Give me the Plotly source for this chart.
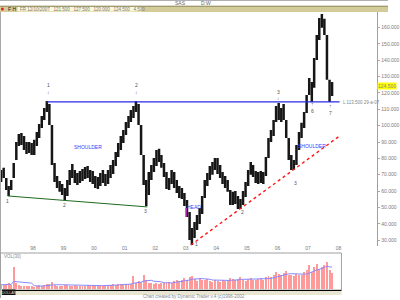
import pandas as pd
import plotly.graph_objects as go

# ---------------- data ----------------
bar_dates = pd.date_range("1996-12-01", periods=131, freq="MS") + pd.Timedelta(days=14)

high = [72.9, 74.2, 68.0, 63.1, 66.8, 77.2, 90.0, 94.9, 95.5, 93.7,
        90.0, 90.0, 89.4, 91.3, 96.1, 101.0, 105.9, 110.8, 115.1, 113.3,
        100.4, 77.2, 69.2, 66.2, 64.3, 61.9, 66.8, 72.9, 76.6, 72.9,
        71.1, 72.3, 73.5, 74.7, 75.3, 72.9, 72.3, 69.2, 68.6, 71.1,
        72.9, 70.5, 72.9, 76.0, 79.0, 83.9, 89.4, 93.7, 97.4, 102.3,
        105.9, 109.6, 112.0, 115.1, 113.3, 100.4, 82.1, 66.8, 71.7, 76.0,
        80.2, 85.1, 85.8, 82.1, 77.2, 71.7, 68.0, 72.9, 71.7, 66.8,
        63.1, 61.9, 58.8, 54.6, 47.2, 37.4, 41.1, 45.4, 49.7, 57.0,
        66.8, 71.1, 75.3, 77.8, 80.2, 80.2, 76.0, 71.7, 69.2, 66.8,
        60.7, 59.5, 60.1, 57.0, 55.2, 60.1, 65.6, 72.9, 77.8, 76.0,
        72.3, 71.7, 72.3, 71.7, 80.9, 92.5, 97.4, 103.5, 112.0, 113.9,
        110.8, 113.3, 103.5, 92.5, 82.1, 79.0, 88.2, 96.1, 101.7, 108.4,
        118.8, 129.2, 126.7, 141.4, 155.5, 165.9, 168.3, 165.3, 155.5, 128.0,
        126.7]

low = [65.6, 68.0, 60.7, 57.0, 60.7, 68.0, 79.0, 87.6, 88.2, 85.1,
       82.7, 83.3, 82.1, 82.1, 87.6, 92.5, 98.6, 103.5, 108.4, 100.4,
       76.0, 65.6, 61.9, 59.5, 57.6, 54.6, 57.0, 63.7, 68.0, 65.0,
       63.7, 65.0, 66.2, 67.4, 68.0, 65.6, 64.3, 61.9, 61.3, 63.1,
       65.0, 63.1, 64.3, 68.0, 70.5, 75.3, 80.9, 85.1, 89.4, 94.3,
       98.6, 102.3, 104.7, 108.4, 100.4, 82.1, 63.7, 50.9, 57.6, 66.8,
       71.7, 75.3, 77.8, 74.2, 68.6, 61.3, 60.7, 64.3, 61.9, 58.8,
       55.8, 55.2, 50.9, 44.2, 30.1, 27.0, 31.3, 36.2, 39.9, 46.0,
       55.8, 63.1, 66.8, 69.9, 72.9, 70.5, 68.0, 64.3, 61.9, 59.5,
       51.5, 51.5, 52.1, 49.1, 49.1, 51.5, 56.4, 63.1, 69.9, 68.6,
       65.0, 64.3, 65.0, 64.3, 69.2, 80.2, 90.0, 93.7, 102.3, 103.5,
       102.3, 103.5, 92.5, 79.0, 72.9, 73.0, 76.0, 85.1, 92.5, 98.6,
       107.8, 118.8, 114.5, 123.1, 140.2, 152.4, 159.8, 155.5, 128.0, 114.5,
       118.2]

volume = [12, 10, 14, 16, 12, 62, 18, 10, 8, 9,
          7, 8, 9, 6, 8, 10, 9, 11, 14, 13,
          20, 12, 9, 8, 7, 10, 12, 9, 8, 10,
          9, 8, 7, 9, 10, 8, 9, 11, 10, 8,
          9, 12, 10, 11, 14, 12, 13, 15, 12, 14,
          13, 15, 36, 18, 22, 20, 40, 24, 18, 16,
          15, 17, 14, 16, 18, 20, 19, 17, 22, 25,
          21, 24, 30, 26, 34, 36, 28, 22, 30, 26,
          24, 28, 22, 20, 25, 23, 20, 24, 22, 26,
          30, 28, 24, 27, 32, 25, 22, 28, 30, 26,
          24, 27, 30, 26, 32, 36, 34, 40, 48, 42,
          38, 45, 50, 40, 38, 35, 42, 40, 38, 46,
          52, 66, 48, 62, 70, 55, 60, 68, 75, 52,
          45]

year_ticks = [f"{y}-01-01" for y in range(1998, 2009)]
year_labels = ["98", "99", "00", "01", "02", "03", "04", "05", "06", "07", "08"]
price_ticks = list(range(30, 170, 10))
price_tick_labels = [f"{v:.3f}" for v in price_ticks]

neck_dates = ["1998-06-15", "2008-01-13"]
neck_vals = [114.5, 114.5]
support_dates = ["1997-03-05", "2001-09-28"]
support_vals = [57.0, 50.3]
trend_dates = ["2003-03-01", "2008-01-13"]
trend_vals = [27.0, 93.7]
last_close = 124.5

# ---------------- helpers ----------------
W, H = 400, 300


def px(x):
    return x / W


def py(y):
    return 1 - y / H


GRAY = "#7a7a7a"
FONT = "Liberation Sans"

fig = go.Figure()

# price bars (high-low)
bx, by = [], []
for d, h, l in zip(bar_dates, high, low):
    bx += [d, d, None]
    by += [l, h, None]
fig.add_trace(go.Scatter(x=bx, y=by, mode="lines", line=dict(color="#161616", width=2.5),
                         hoverinfo="skip", xaxis="x", yaxis="y"))

# trend lines
fig.add_trace(go.Scatter(x=neck_dates, y=neck_vals, mode="lines",
                         line=dict(color="#2a2ae8", width=1.2), xaxis="x", yaxis="y"))
fig.add_trace(go.Scatter(x=support_dates, y=support_vals, mode="lines",
                         line=dict(color="#1d6b1d", width=1), xaxis="x", yaxis="y"))
fig.add_trace(go.Scatter(x=trend_dates, y=trend_vals, mode="lines",
                         line=dict(color="#ff1a1a", width=1.4, dash="dot"), xaxis="x", yaxis="y"))

# volume
fig.add_trace(go.Bar(x=bar_dates, y=volume, marker=dict(color="#ff9a9a", line=dict(width=0)),
                     width=1.0e9, xaxis="x2", yaxis="y2"))
vol_ma = pd.Series(volume).rolling(8, min_periods=1).mean()
fig.add_trace(go.Scatter(x=bar_dates, y=vol_ma, mode="lines",
                         line=dict(color="#8a88ff", width=1), xaxis="x2", yaxis="y2"))

shapes = []
# top border
shapes.append(dict(type="line", xref="paper", yref="paper", x0=0, x1=1, y0=py(0.5), y1=py(0.5),
                   line=dict(color="#b0b0b0", width=1)))
# khaki header bar
shapes.append(dict(type="rect", xref="paper", yref="paper", x0=0, x1=1, y0=py(12), y1=py(6),
                   fillcolor="#d3cc9a", line=dict(width=0), layer="below"))
shapes.append(dict(type="line", xref="paper", yref="paper", x0=0, x1=1, y0=py(6.2), y1=py(6.2),
                   line=dict(color="#8d875a", width=1)))
shapes.append(dict(type="rect", xref="paper", yref="paper", x0=px(18), x1=px(146), y0=py(11.5), y1=py(7),
                   fillcolor="#fbf8dc", line=dict(width=0)))
shapes.append(dict(type="circle", xref="paper", yref="paper", x0=px(1), x1=px(4), y0=py(10.5), y1=py(7.5),
                   fillcolor="#e02020", line=dict(width=0)))
# left border
shapes.append(dict(type="line", xref="paper", yref="paper", x0=px(0.5), x1=px(0.5), y0=py(298), y1=py(12),
                   line=dict(color="#a8a8a8", width=1)))
# volume box
shapes.append(dict(type="rect", xref="paper", yref="paper", x0=px(0.5), x1=px(352), y0=py(290), y1=py(253),
                   line=dict(color="#a0a0a0", width=1)))
# bottom strip
shapes.append(dict(type="rect", xref="paper", yref="paper", x0=px(0.5), x1=px(352), y0=py(295), y1=py(290.5),
                   fillcolor="#e8e6d2", line=dict(width=0)))
shapes.append(dict(type="line", xref="paper", yref="paper", x0=px(15), x1=px(352), y0=py(290.5), y1=py(290.5),
                   line=dict(color="#000000", width=1)))
shapes.append(dict(type="rect", xref="paper", yref="paper", x0=px(2), x1=px(16), y0=py(295), y1=py(289.5),
                   fillcolor="#111111", line=dict(width=0)))
# purple head marker
shapes.append(dict(type="line", xref="paper", yref="paper", x0=px(192), x1=px(192), y0=py(217), y1=py(208),
                   line=dict(color="#b020b0", width=1.5)))


def txt(x, y, s, color=GRAY, size=5, anchor="center", bg=None):
    d = dict(x=px(x), y=py(y), xref="paper", yref="paper", text=s, showarrow=False,
             xanchor=anchor, yanchor="middle", font=dict(family=FONT, size=size, color=color),
             borderpad=0)
    if bg:
        d["bgcolor"] = bg
    return d


ann = [
    txt(186, 3, "SAS", "#666"),
    txt(212, 3, "D:W", "#666"),
    txt(7, 9, "F H", "#222", 5, "left"),
    txt(20, 9, "FR 12/10/2007   121.500   127.500   120.000   124.500   4.500", "#777", 4.5, "left"),
    txt(50, 85, "1", "#555"), txt(50, 92, "↓", "#555"),
    txt(141, 85, "2", "#555"), txt(141, 92, "↓", "#555"),
    txt(287, 92, "3", "#555"), txt(287, 98, "↓", "#555"),
    txt(322, 104, "↑", "#555"), txt(322, 111, "6", "#555"),
    txt(341, 106, "↑", "#555"), txt(341, 113, "7", "#555"),
    txt(8, 201, "1", "#555"), txt(67, 205, "2", "#555"), txt(150, 211, "3", "#555"),
    txt(203, 244, "1", "#555"), txt(250, 212, "2", "#555"), txt(305, 183, "3", "#555"),
    txt(91, 147, "SHOULDER", "#3a3aff", 5),
    txt(322, 146, "SHOULDER", "#3a3aff", 5),
    txt(200, 207, "HEAD", "#3a3aff", 5),
    txt(353, 102, "L 113.500 29-a-07", "#888", 4.5, "left"),
    txt(3, 256, "VOL(30)", "#888", 4.5, "left"),
    txt(9, 292.5, "DOLLAR", "#dddddd", 3.5),
    txt(200, 296.5, "Chart created by Dynamic Trader v.4 (c)1996-2002", "#888", 4.5),
    dict(x=389 / 400, y=last_close, xref="paper", yref="y", text=f"{last_close:.3f}", showarrow=False,
         xanchor="left", yanchor="middle", bgcolor="#ffff00", borderpad=0,
         font=dict(family=FONT, size=5, color="#888")),
]

fig.update_layout(
    width=W, height=H, margin=dict(l=0, r=0, t=0, b=0),
    paper_bgcolor="white", plot_bgcolor="white", showlegend=False,
    shapes=shapes, annotations=ann, bargap=0,
    xaxis=dict(domain=[0, 389 / 400], type="date", range=["1996-12-02", "2009-04-08"],
               tickvals=year_ticks, ticktext=year_labels, showgrid=False, zeroline=False,
               ticks="", ticklabelstandoff=-2, anchor="y",
               tickfont=dict(family=FONT, size=5, color=GRAY), showline=False),
    yaxis=dict(domain=[1 - 246 / 300, 1 - 12 / 300], range=[26.4, 169.5], side="right",
               tickvals=price_ticks, ticktext=price_tick_labels, showgrid=False, zeroline=False,
               showline=True, linecolor="#a0a0a0", linewidth=1, ticks="outside", ticklen=2,
               tickcolor="#aaa", tickfont=dict(family=FONT, size=5, color=GRAY), anchor="x"),
    xaxis2=dict(domain=[0, 352 / 400], type="date", range=["1996-12-02", "2008-02-04"],
                showticklabels=False, showgrid=False, zeroline=False, anchor="y2"),
    yaxis2=dict(domain=[1 - 289 / 300, 1 - 253 / 300], range=[0, 100], showticklabels=False,
                showgrid=False, zeroline=False, anchor="x2"),
)

fig.write_html("out.html")
